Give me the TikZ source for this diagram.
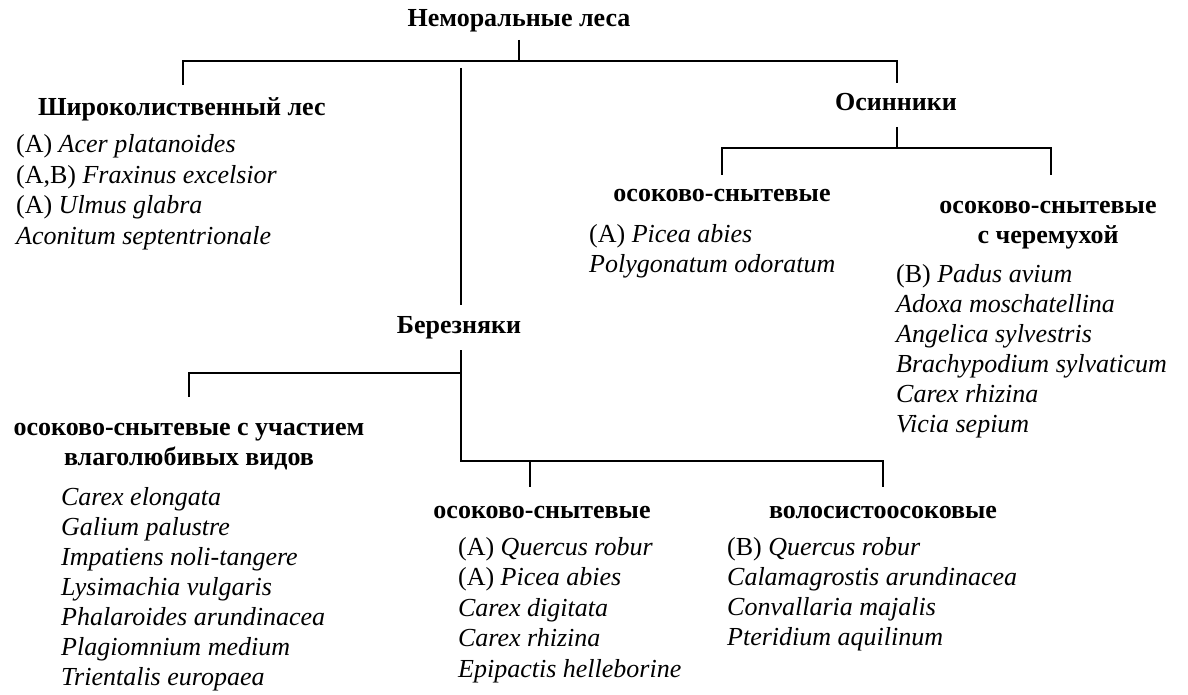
\documentclass[tikz,border=0pt]{standalone}
\usepackage{fontspec}
\setmainfont{Liberation Serif}
\begin{document}
\begin{tikzpicture}[x=1pt,y=-1pt,line width=2.3pt,
  hdr/.style={font=\fontsize{26}{30}\selectfont\bfseries,inner sep=0pt,anchor=base},
  hdrw/.style={font=\fontsize{26}{30}\selectfont\bfseries,inner sep=0pt,anchor=base west},
  lst/.style={font=\fontsize{26}{30}\selectfont,inner sep=0pt,anchor=base west}]
\useasboundingbox (0,0) rectangle (1188,695);
% headers
\node[hdr] (root) at (519,27) {Неморальные леса};
\node[hdrw] (shl) at (37,116) {Широколиственный лес};
\node[hdr] (osin) at (896,111) {Осинники};
\node[hdr] (os1) at (722,202) {осоково-снытевые};
\node[hdr] (os2a) at (1048,213) {осоково-снытевые};
\node[hdr] (os2b) at (1048,243) {с черемухой};
\node[hdr] (ber) at (459,333) {Березняки};
\node[hdr] (b1a) at (189,435) {осоково-снытевые с участием};
\node[hdr] (b1b) at (189,465) {влаголюбивых видов};
\node[hdr] (b2) at (542,518) {осоково-снытевые};
\node[hdr] (b3) at (883,518) {волосистоосоковые};
% species lists
\foreach \t [count=\i] in {{(A) \textit{Acer platanoides}},{(A,B) \textit{Fraxinus excelsior}},{(A) \textit{Ulmus glabra}},{\textit{Aconitum septentrionale}}}
  \node[lst] (sa\i) at (15,{153+30.5*(\i-1)}) {\t};
\foreach \t [count=\i] in {{(A) \textit{Picea abies}},{\textit{Polygonatum odoratum}}}
  \node[lst] (sb\i) at (588,{242+30.5*(\i-1)}) {\t};
\foreach \t [count=\i] in {{(B) \textit{Padus avium}},{\textit{Adoxa moschatellina}},{\textit{Angelica sylvestris}},{\textit{Brachypodium sylvaticum}},{\textit{Carex rhizina}},{\textit{Vicia sepium}}}
  \node[lst] (sc\i) at (895,{282+30*(\i-1)}) {\t};
\foreach \t [count=\i] in {{\textit{Carex elongata}},{\textit{Galium palustre}},{\textit{Impatiens noli-tangere}},{\textit{Lysimachia vulgaris}},{\textit{Phalaroides arundinacea}},{\textit{Plagiomnium medium}},{\textit{Trientalis europaea}}}
  \node[lst] (sd\i) at (60,{505+30*(\i-1)}) {\t};
\foreach \t [count=\i] in {{(A) \textit{Quercus robur}},{(A) \textit{Picea abies}},{\textit{Carex digitata}},{\textit{Carex rhizina}},{\textit{Epipactis helleborine}}}
  \node[lst] (se\i) at (457,{555+30.5*(\i-1)}) {\t};
\foreach \t [count=\i] in {{(B) \textit{Quercus robur}},{\textit{Calamagrostis arundinacea}},{\textit{Convallaria majalis}},{\textit{Pteridium aquilinum}}}
  \node[lst] (sf\i) at (726,{555+30*(\i-1)}) {\t};
% bracket points
\coordinate (r0) at (519,40);  \coordinate (r1) at (519,61);
\coordinate (rl) at (183,61);  \coordinate (rl2) at (183,85);
\coordinate (rr) at (897,61);  \coordinate (rr2) at (897,83);
\coordinate (m0) at (461,68);  \coordinate (m1) at (461,305);
\coordinate (o0) at (897,127); \coordinate (o1) at (897,148);
\coordinate (ol) at (722,148); \coordinate (ol2) at (722,175);
\coordinate (or) at (1051,148);\coordinate (or2) at (1051,175);
\coordinate (b0) at (461,350); \coordinate (bm) at (461,373);
\coordinate (bl) at (189,373); \coordinate (bl2) at (189,397);
\coordinate (bb) at (461,461); \coordinate (bbr) at (883,461);
\coordinate (bbr2) at (883,487);
\coordinate (bs) at (530,461); \coordinate (bs2) at (530,487);
% connectors
\draw (r0) -- (r1);
\draw (rl2) -- (rl) -- (rr) -- (rr2);
\draw (m0) -- (m1);
\draw (o0) -- (o1);
\draw (ol2) -- (ol) -- (or) -- (or2);
\draw (bl2) -- (bl) -- (bm);
\draw (b0) -- (bb) -- (bbr) -- (bbr2);
\draw (bs) -- (bs2);
\end{tikzpicture}
\end{document}
